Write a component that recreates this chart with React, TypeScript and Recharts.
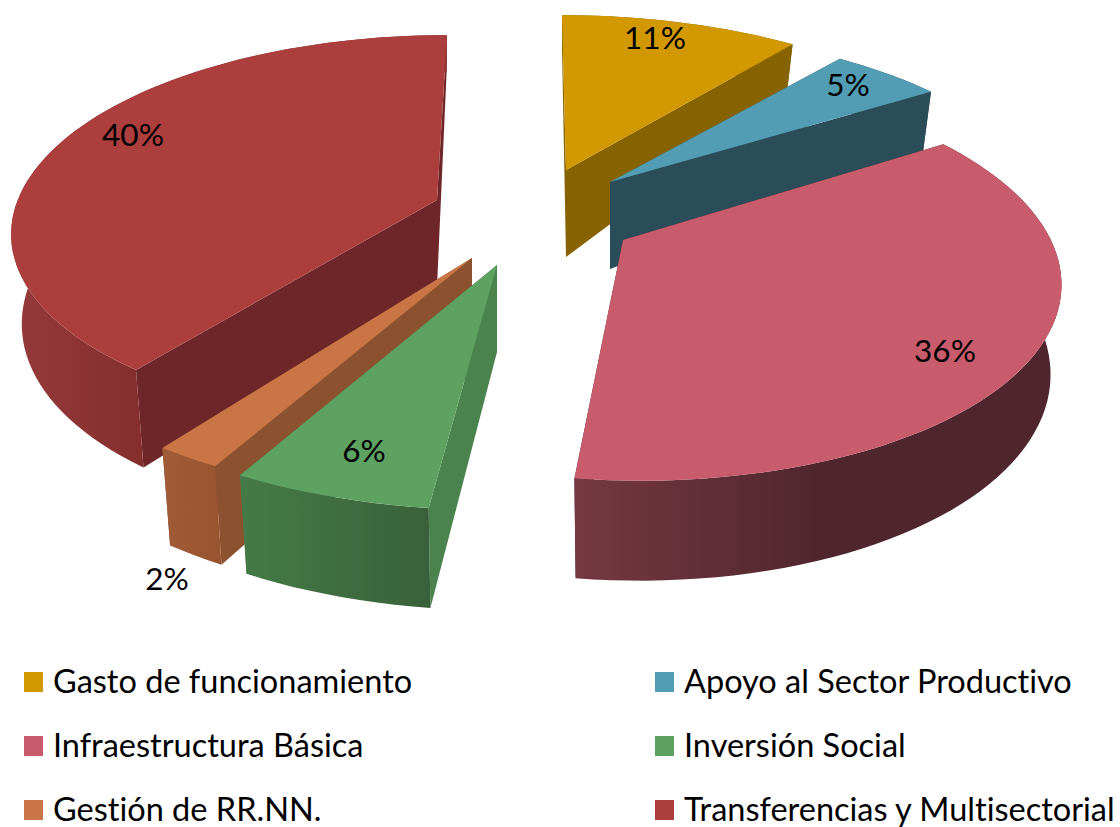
import * as React from "react";
import { Legend, Pie, PieChart } from "recharts";

const categories = [
  "Gasto de funcionamiento",
  "Apoyo al Sector Productivo",
  "Infraestructura Básica",
  "Inversión Social",
  "Gestión de RR.NN.",
  "Transferencias y Multisectorial",
];
const shares = [11, 5, 36, 6, 2, 40];

const topColors = ["#D29800", "#529DB4", "#C85C6C", "#5EA262", "#C97546", "#AC3E3E"];
const cutColors = ["#876300", "#2B4D59", "#50262E", "#4B834E", "#8C5230", "#6F2628"];
const rimFrom = ["#876300", "#2B4D59", "#763842", "#457B48", "#A05C37", "#963A3A"];
const rimTo = ["#876300", "#2B4D59", "#50262E", "#3A6139", "#98532F", "#862E2E"];
const rimStop = [1, 1, 0.5, 1, 1, 0.29];

// where each wedge was pulled to, relative to the pie centre, and how the
// picture's perspective distorts it
const wedgeLayout = [
  { x: 46, y: -50, lean: 0.026, sx: 0.995, sy: 1, back: 0.25, front: 0.18 },
  { x: 90, y: -38, lean: 0, sx: 0.995, sy: 0.98, back: 0.25, front: 0.18 },
  { x: 103, y: 20, lean: 0.07, sx: 0.995, sy: 1.02, back: 0.2, front: 0.18 },
  { x: -23, y: 45, lean: 0, sx: 1.04, sy: 1.04, back: 0.25, front: 0.18 },
  { x: -48, y: 38, lean: 0, sx: 1.04, sy: 1.03, back: 0.25, front: 0.18 },
  { x: -83, y: -20, lean: -0.06, sx: 0.975, sy: 0.92, back: 0.08, front: 0.2 },
];
const labelOffsets = [
  { x: 89, y: -133 },
  { x: 238, y: -98 },
  { x: 322, y: 110 },
  { x: -133, y: 185 },
  { x: -305, y: 320 },
  { x: -304, y: -66 },
];

const WIDTH = 1120;
const HEIGHT = 827;
const CX = 520;
const CY = 220;
const RADIUS = 430;
const SQUASH = 0.45;
const LABEL_FONT = "Lato, sans-serif";

const rows = categories.map((name, i) => ({ name, value: shares[i], index: i, fill: topColors[i] }));
const rightRows = rows.slice(0, 3);
const leftRows = rows.slice(3).reverse();
const total = shares.reduce((a, b) => a + b, 0);
const rightSweep = (360 * rightRows.reduce((a, r) => a + r.value, 0)) / total;
const leftSweep = 360 - rightSweep;

const toPath = (pts: number[][]) =>
  pts.map((p, i) => `${i ? "L" : "M"}${p[0].toFixed(1)},${p[1].toFixed(1)}`).join(" ") + " Z";

function WedgeShape(props: any) {
  const { cx, cy, outerRadius, startAngle, endAngle, payload } = props;
  const i = payload.index;
  const off = wedgeLayout[i];
  const ax = cx + off.x;
  const ay = cy + off.y;

  const top = (deg: number) => {
    const u = Math.cos((deg * Math.PI) / 180);
    const v = Math.sin((deg * Math.PI) / 180);
    const w = 1 + ((off.back + off.front) / 2) * v + ((off.back - off.front) / 2) * v * v;
    const dy = (-outerRadius * off.sy * SQUASH * v) / w;
    return {
      x: ax + (outerRadius * off.sx * u) / w + off.lean * dy,
      y: ay + dy,
      v,
    };
  };
  const below = (x: number, y: number, v: number) => {
    const drop = v > 0 ? 87 - 50 * v : 87 - 13 * v;
    return [x - (x - ax) * 0.025, y + drop];
  };

  const steps = Math.max(2, Math.ceil(Math.abs(endAngle - startAngle) / 2));
  const arc = Array.from({ length: steps + 1 }, (_, s) =>
    top(startAngle + ((endAngle - startAngle) * s) / steps)
  );
  const arcTop = arc.map((p) => [p.x, p.y]);
  const arcBelow = arc.map((p) => below(p.x, p.y, p.v));
  const apexBelow = below(ax, ay, 0);
  const first = arc[0];
  const last = arc[arc.length - 1];
  const gradId = `rim-${i}`;

  return (
    <g>
      <defs>
        <linearGradient id={gradId} x1="0" y1="0" x2="1" y2="0">
          <stop offset="0" stopColor={rimFrom[i]} />
          <stop offset={rimStop[i]} stopColor={rimTo[i]} />
        </linearGradient>
      </defs>
      <path
        d={toPath([[ax, ay], [first.x, first.y], below(first.x, first.y, first.v), apexBelow])}
        fill={cutColors[i]}
      />
      <path
        d={toPath([[ax, ay], [last.x, last.y], below(last.x, last.y, last.v), apexBelow])}
        fill={cutColors[i]}
      />
      <path d={toPath([...arcTop, ...arcBelow.slice().reverse()])} fill={`url(#${gradId})`} />
      <path d={toPath([[ax, ay], ...arcTop])} fill={topColors[i]} />
    </g>
  );
}

function shareLabel(props: any) {
  const i = props.payload?.index ?? props.index;
  const off = wedgeLayout[i];
  return (
    <text
      x={CX + off.x + labelOffsets[i].x}
      y={CY + off.y + labelOffsets[i].y}
      textAnchor="middle"
      dominantBaseline="central"
      fontFamily={LABEL_FONT}
      fontSize={31.5}
      fill="#000"
    >
      {`${props.value}%`}
    </text>
  );
}

const legendColumns = [24, 655];
const legendRows = [681, 745, 809];

function LegendGrid() {
  return (
    <div style={{ position: "relative", width: WIDTH, height: 167 }}>
      {categories.map((name, i) => {
        const left = legendColumns[i % 2];
        const mid = legendRows[Math.floor(i / 2)] - 660;
        return (
          <React.Fragment key={name}>
            <span
              style={{
                position: "absolute",
                left,
                top: mid - 9,
                width: 19,
                height: 20,
                background: topColors[i],
              }}
            />
            <span
              style={{
                position: "absolute",
                left: left + 29,
                top: mid - 22,
                lineHeight: "44px",
                height: 44,
                whiteSpace: "nowrap",
                fontFamily: LABEL_FONT,
                fontVariantLigatures: "none",
                fontSize: 32.5,
                color: "#000",
              }}
            >
              {name}
            </span>
          </React.Fragment>
        );
      })}
    </div>
  );
}

export default function App() {
  return (
    <div style={{ position: "absolute", left: 0, top: 0, width: WIDTH, height: HEIGHT, background: "#fff", overflow: "hidden" }}>
      <PieChart width={WIDTH} height={HEIGHT} margin={{ top: 0, right: 0, bottom: 0, left: 0 }}>
        <Pie
          data={rightRows}
          dataKey="value"
          nameKey="name"
          cx={CX}
          cy={CY}
          outerRadius={RADIUS}
          startAngle={90}
          endAngle={90 - rightSweep}
          stroke="none"
          shape={WedgeShape}
          label={shareLabel}
          labelLine={false}
          isAnimationActive={false}
        />
        <Pie
          data={leftRows}
          dataKey="value"
          nameKey="name"
          cx={CX}
          cy={CY}
          outerRadius={RADIUS}
          startAngle={90}
          endAngle={90 + leftSweep}
          stroke="none"
          shape={WedgeShape}
          label={shareLabel}
          labelLine={false}
          isAnimationActive={false}
        />
        <Legend
          verticalAlign="bottom"
          content={<LegendGrid />}
          wrapperStyle={{ position: "absolute", left: 0, top: 660, width: WIDTH, height: 167 }}
        />
      </PieChart>
    </div>
  );
}
